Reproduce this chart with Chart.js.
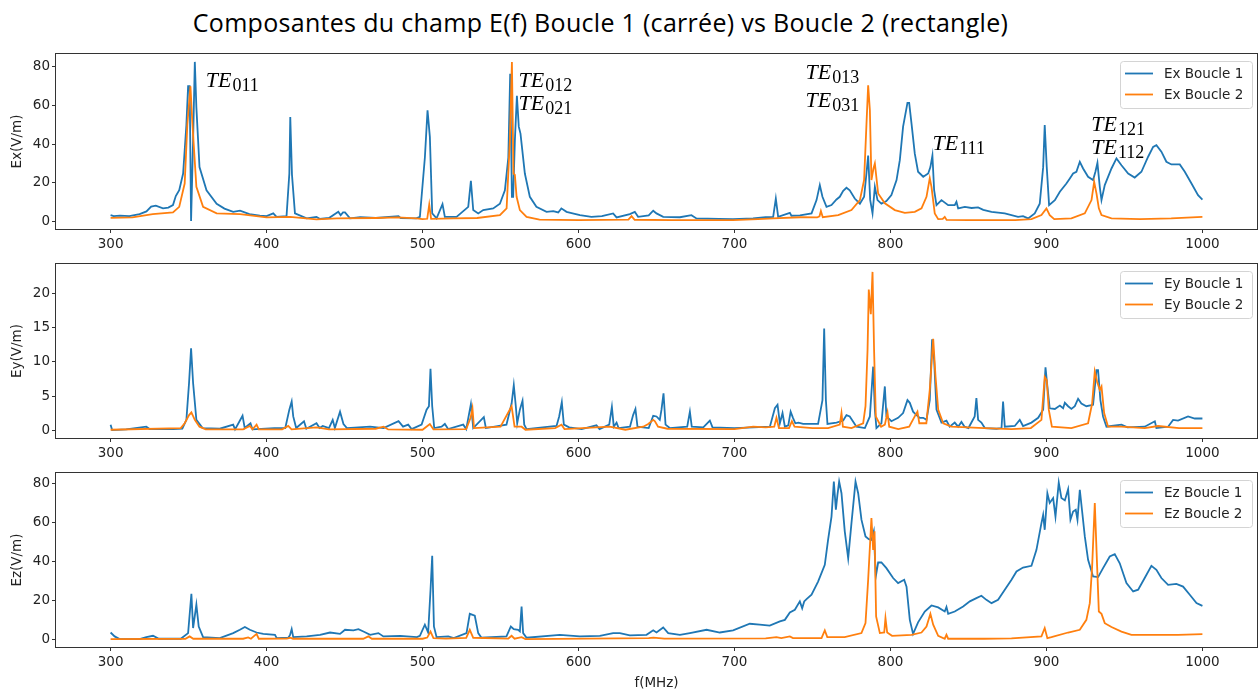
<!DOCTYPE html>
<html>
<head>
<meta charset="utf-8">
<script src="https://cdn.jsdelivr.net/npm/chart.js@4.4.0/dist/chart.umd.min.js"></script>
<style>
  body { margin: 0; background: #fff; width: 1258px; height: 693px; position: relative; overflow: hidden; }
  #title { position: absolute; left: 0; top: 5px; width: 1201px; text-align: center; font-family: "Open Sans"; font-size: 25px; letter-spacing: 0.3px; line-height: 34px; color: #000; }
  canvas { position: absolute; left: 0; }
</style>
</head>
<body>
<div id="title">Composantes du champ E(f) Boucle 1 (carrée) vs Boucle 2 (rectangle)</div>
<canvas id="cx" width="1258" height="219" style="top:40px"></canvas>
<canvas id="cy" width="1258" height="218" style="top:250px"></canvas>
<canvas id="cz" width="1258" height="234" style="top:459px"></canvas>
<script>
// frequency (MHz), field (V/m)
const exB1 = [[300,3.1],[302,2.6],[306,2.8],[312,2.6],[318.6,3.6],[323,5],[326,7.5],[329,8],[333.6,6.6],[337,7],[340,8.3],[341.8,13],[344,16],[346.5,24.7],[348.6,50],[349.7,70],[350.7,70],[351.6,0],[352.9,42],[354,82.6],[355,59],[357,28],[361.5,16],[368,9],[373,6.5],[378.6,4.8],[383,5.4],[389,3.6],[395.7,2.8],[400,2.6],[404.3,4],[406.4,2.2],[412.8,2.6],[414.6,24.7],[415.2,54],[416.3,24],[418.2,4],[425.7,1.4],[432,2.2],[434,1.2],[440,1.6],[446,4.8],[447.5,3],[449,4.5],[450.3,4.5],[453.5,1.4],[460,2],[470,1.6],[484.6,2.6],[486,1.5],[496,1.4],[498.3,2.2],[501.5,33],[503.2,57.5],[504.7,43.7],[506.2,4],[509,1.4],[512.8,8.8],[514.3,2.2],[521.8,2.2],[529.3,7.4],[531,20.9],[532.5,5.7],[535.7,4],[538.9,5.7],[545.3,6.6],[549.6,9],[552.8,16],[555,33],[556.2,76.5],[557.3,12.6],[558.1,12.6],[559.2,42],[560.5,65],[561.7,49],[562.8,45.4],[565.6,24.7],[568.8,12.6],[573,7.4],[579.5,4.8],[583.8,5.2],[587,4.5],[589,6.6],[592.3,4.8],[600.9,3.1],[608.3,2.2],[615,2.6],[622.2,4],[624.4,1.9],[632.9,3.6],[636.1,4.8],[638.2,2.2],[645,3],[647.9,5.4],[650,4],[654.3,2.2],[665,2],[672.4,3.1],[675.6,1.4],[690,1.2],[699,1],[711.9,1.4],[720,2],[724.8,2.2],[726.5,11.7],[728,2.2],[735.5,4.3],[736.5,2.8],[742,3],[749.4,4],[752.6,10.9],[754.7,18.7],[756.4,12.6],[759,7.4],[762.2,8.3],[765.4,11.2],[767.5,12.6],[769.7,15.7],[771.8,17.3],[773.9,16],[777.1,11.7],[780.4,9],[783.1,12.6],[784.6,24.7],[785.7,34],[787,11],[788.5,4],[790,17.8],[791.7,10.9],[794.2,9],[797.4,10.4],[800.6,13.5],[803.9,21.3],[806,31.6],[808.1,49],[810.9,61.3],[812,61.3],[813.5,50.6],[815.6,35],[817.7,25.6],[821,23],[824.2,24.7],[825.6,28],[826.9,34],[828,16],[829.5,8.3],[832.7,10.9],[837,8.3],[841.2,8.3],[842.3,10],[843.4,6.6],[847.7,7.4],[852,6.8],[856.2,7.1],[859.5,5.8],[864.8,4.8],[873.3,4],[881.8,2.2],[885,2.6],[888.3,1.4],[892.5,4],[895.7,9],[897.9,28],[898.9,49.8],[900.2,28],[901.7,8.3],[905.4,10.9],[908.6,15.2],[912.8,19.5],[914.9,22],[917.1,24.7],[919.2,25.6],[921.4,30.8],[923.5,27.3],[926.7,23],[929.9,21.3],[931.4,25.6],[932.7,30.2],[934.2,17.8],[935.3,10.9],[937.4,18.7],[941.7,27.3],[944.9,32.5],[948.1,29],[952.4,24.7],[956.6,22.6],[960.9,25.6],[965.2,33.4],[968.4,38.5],[970.5,39.4],[973.7,36],[976.9,30.8],[980.1,29.4],[985.5,29.4],[988.7,25.6],[993,19.5],[997.2,13.5],[1000,11.2]];
const exB2 = [[300,1.7],[314,1.9],[327,3.6],[340,4.5],[344,7.4],[347.5,19.5],[349.2,50],[351.2,70],[352.5,50],[355,17.8],[359.3,7.4],[368,4],[383,3.6],[400,1.9],[415,2.2],[432,0.9],[445,1.4],[470,1.6],[484,1.9],[496,1.4],[500,1],[503,1.2],[504.3,8.6],[505.5,1.2],[520,1.4],[535,1.6],[549.6,3.1],[553.9,6.6],[556,42],[557.3,82.6],[558.3,24.7],[559.2,24],[560.3,12.6],[562.4,5.7],[566.7,2.2],[575,0.8],[600,0.5],[632,0.8],[634,2.6],[636,0.7],[660,0.5],[699,0.5],[715,1],[724.8,1.4],[742,2],[753,1.9],[754.5,2.5],[755.4,5.2],[756.6,2],[766.5,3.1],[775,5.7],[780.4,10.9],[783.1,21.3],[784.6,50],[785.7,70.5],[786.8,57.5],[787.8,21.3],[789.1,27.3],[790,29.9],[792.1,14.3],[796.4,9.2],[802.8,5.7],[809.2,4.3],[815.6,4.8],[819.9,6.6],[823.1,12.6],[825.2,22.3],[826.3,17.8],[828.4,4],[830.6,1],[833.5,1.2],[834.8,2.2],[836,0.6],[850,0.5],[880,0.5],[890.4,1],[896.8,3.1],[900,6.6],[902.1,3.1],[905,1],[916,1.4],[924.6,4],[928.9,10.9],[930.6,20.4],[932.1,14.3],[933.6,6.6],[935.3,3.1],[941.7,1.4],[960,1],[980,1.4],[1000,2.2]];

const eyB1 = [[300,0.8],[301,0],[310,0.1],[322.9,0.5],[325,0.15],[340,0.15],[346,0.2],[348.6,1.5],[350.3,6.9],[351.6,12],[352.9,6.9],[355,1.5],[359,0.3],[370,0.2],[378.6,0.8],[379.8,0.1],[384.6,2.1],[386,0.3],[389.7,1],[391,0.1],[405,0.3],[412,0.3],[414.6,3],[416.1,4.2],[417.1,2],[419,0.3],[424,1.3],[425.5,0.2],[432,1],[434,0.3],[436,0.6],[440,0.3],[442.4,1.5],[443.8,0.3],[447.1,2.7],[449.3,0.9],[451.5,0.3],[466.4,0.5],[475,0.3],[484.6,1.3],[487.5,0.5],[490.8,0.8],[493,0.15],[499.4,0.8],[502.6,3],[504.1,3.5],[505.1,9],[506.2,3.5],[507.5,0.3],[512.2,0.5],[514.3,0.9],[516.4,0.15],[526.1,0.8],[528,0.15],[531,3.8],[532.5,0.3],[539.3,1.9],[540.6,0.3],[553.8,0.8],[557.1,3.9],[558.5,6.6],[559.8,3.5],[560.7,1],[562.4,3],[564.1,4.3],[565.2,0.8],[566.7,0.15],[585.9,0.6],[587.6,2],[589.3,4.1],[590.6,0.8],[594,0.4],[602,0.15],[611.5,0.7],[613.5,0.15],[619.7,0.8],[621.4,3.4],[622.6,0.5],[624.4,1.1],[625.7,0.3],[633,0.5],[635,2.2],[636.5,3.1],[637.8,0.5],[645,0.3],[647.9,2.1],[650,2],[652.1,1.5],[653.2,3],[654.5,5.4],[655.8,0.8],[658.5,0.3],[669.7,0.5],[671.4,2.7],[672.6,0.5],[680,0.4],[684.2,1.4],[685.9,0.4],[700,0.3],[712,0.4],[722.7,0.5],[725.9,3.2],[727.6,3.7],[729.1,1],[730.8,2.5],[732.3,0.5],[734.5,0.7],[736,2.7],[737.5,1.8],[739,1],[741,1.1],[744,0.9],[748,0.9],[753.6,0.9],[756.4,4.4],[757.5,14.9],[758.6,4.4],[759.6,0.9],[765.4,1.1],[769.7,1.4],[771.8,2.2],[773.9,2],[778.2,0.5],[783.6,0.3],[786.8,2],[788.9,9.3],[790,3],[791,0.3],[794.2,1],[796.4,6.4],[797.4,2],[800.6,1.3],[804.9,1.8],[808.1,2.5],[810.9,4.4],[812.4,4],[814.5,2.7],[816.7,2.2],[818.8,1.8],[821,1.8],[823.1,1.5],[825.2,4.4],[826.7,13.3],[828,10.3],[829.5,3],[832.7,1.1],[835.9,1.4],[838,0.5],[841.2,1.1],[843.4,0.5],[845.5,1.2],[847.5,0.5],[850,0.3],[854,2],[855.1,4.7],[856.2,1.5],[858.3,1.1],[860.5,0.3],[868,0.2],[871.2,0.3],[872.2,4.2],[873.3,0.5],[879.7,0.6],[882.9,1.5],[885,0.6],[890.4,1.1],[894.7,1.8],[897.9,3],[899.4,9.2],[900.6,6.4],[902.1,3.2],[905.4,3.1],[908.6,3.6],[910.7,3.2],[911.8,4],[913.9,3.5],[916,3.1],[918.2,3.5],[920.3,4.6],[922.4,3.9],[925.6,3.5],[929.9,3.7],[932.1,8.8],[933.1,8.8],[934.6,4.4],[936.3,2],[938.5,0.5],[941.7,0.6],[948.1,0.8],[952,0.4],[963,0.5],[969.5,1.3],[970.5,0.3],[978,0.5],[981.2,1.5],[984.4,1.4],[990.8,2],[995.1,1.7],[1000,1.7]];
const eyB2 = [[300,0.05],[345,0.3],[347.5,1],[350.3,2.2],[351.8,2.6],[354,1.5],[357,0.5],[361,0.1],[385,0.1],[389.3,0.6],[391,0.1],[393.6,0.8],[395,0.1],[410,0.1],[413.9,0.6],[416,0.1],[432,0.4],[440,0.1],[470,0.2],[475,0.5],[478,0.1],[500,0.05],[504.7,0.9],[507,0.1],[528,0.15],[530.8,1.8],[532,3.2],[533,0.3],[550,0.5],[557.1,3.5],[559,0.5],[563.5,0.5],[566,0.05],[585,0.3],[589.1,0.8],[591,0.15],[620,0.5],[630,0.05],[641.5,0.5],[644.7,0.9],[647.9,1.5],[649,1.3],[651,0.5],[657,0.2],[700,0.15],[712,0.5],[720,0.4],[725.5,0.5],[726.9,1.8],[728.5,0.3],[735,0.3],[736.8,1.3],[738.5,0.5],[750,0.3],[760,0.3],[767.5,0.8],[768.6,2.5],[769.5,0.5],[775,0.3],[782.5,1],[784,3.5],[785.3,11.7],[786.1,20.6],[787.4,17],[788.5,23.2],[789.5,11.7],[790.6,2],[794,0.5],[796.4,0.8],[798.1,2.6],[799.2,0.5],[805,0.15],[812,0.5],[816,2.2],[817.3,2.7],[818.5,1],[823,1],[825.2,5.9],[827.4,13.4],[828.9,7.8],[830.6,3],[833.8,1],[839.1,0.5],[860,0.3],[877.6,0.15],[890,0.3],[896.8,1.5],[898.9,7.8],[900.2,7.3],[901.5,3],[903.5,0.5],[916,0.3],[926.7,1],[929.3,3.9],[931,8.6],[932.5,7.1],[934.2,5.9],[935.3,6.4],[937,2.5],[939.5,0.5],[948.1,0.5],[963,0.3],[971.6,0.6],[985,0.3],[1000,0.3]];

const ezB1 = [[300,3.4],[302.6,1.4],[305.8,0],[318.6,0],[322.9,1],[327.2,1.7],[331,0.2],[345,0.2],[349.7,3.1],[351.8,23.3],[352.9,5.7],[355,17.7],[356.5,6.5],[359.3,1],[370,0.5],[378.6,3.1],[382.9,4.8],[386.1,6.2],[389.3,4.8],[393.6,3.4],[397.9,2.7],[405.4,2.2],[406.5,0.5],[414,0.8],[415,2],[416.1,5.1],[417.1,1],[425.7,1.4],[434.3,2.2],[440.7,3.4],[447.1,2.7],[450.3,4.8],[455.7,4.5],[458.9,5.1],[462.1,3.9],[466.4,2.2],[471.7,3.1],[474.9,1.4],[485.7,1.7],[496.4,1],[498.3,1.7],[501.5,7.4],[503.6,3.4],[505.1,25],[506.2,42.8],[507.3,6.5],[509,1],[516.5,1.4],[520,0.5],[528.2,3.1],[530.3,13],[533.5,12],[535.7,3.1],[537.8,0.7],[553.8,1.4],[556.6,6.5],[558.5,5.1],[561.3,4.8],[562.4,4],[563.5,16.8],[564.5,3.1],[566.7,0.7],[588,2.2],[600.9,1.4],[613.7,1.7],[622.2,3.1],[626.5,3.1],[632.9,1.9],[643.6,2.2],[647.9,4.5],[650,3.4],[654.3,6],[657.5,3.1],[665,2.2],[671.4,3.1],[682.1,4.8],[690.6,3.4],[699.1,4.5],[709.8,7.9],[716.2,7.4],[722.6,6.9],[729.1,9.1],[732.3,9.9],[735.5,13.7],[738.7,15.1],[741.9,19.4],[743.4,15.9],[744.7,19.4],[746.2,20.6],[749.4,22.8],[753.6,29.6],[757.9,38.2],[760,51],[762.2,63],[763.7,81],[765,66.6],[766,74.2],[767.1,81],[768.6,75],[770.7,55.4],[772.9,41.6],[775,59.6],[777.6,81],[779.3,75],[781.4,61.4],[784,52.8],[786.1,51.4],[787.8,51],[789.3,55.4],[790.6,32.2],[792.1,39.4],[794.2,39.4],[797.4,36.5],[801.7,31.4],[804.9,28.8],[808.8,30.5],[810.3,27],[812.4,9.9],[814.5,2.7],[817.7,8.6],[822,14.2],[826.3,17.3],[830.6,16.3],[834.8,14.2],[835.9,16.5],[837,13],[841.2,14.2],[846.6,16.8],[850.9,19.4],[855.1,21.1],[858.3,22.3],[861.5,20.2],[864.8,18.5],[869,20.2],[873.3,25.4],[877.6,30.5],[880.8,34.8],[885,36.8],[890.4,37.7],[893.6,45.9],[896.8,59.6],[897.9,63.9],[898.9,56.2],[900.6,75],[902.1,70],[904.3,72.5],[905.8,63],[907.9,80.5],[909.6,72.5],[911.8,71.3],[913.9,77.1],[915.4,61.4],[917.1,65.6],[918.8,66.5],[919.9,61.4],[921.4,76.8],[922.9,65.6],[924.6,52.8],[926.7,40.8],[929.9,32.2],[933.1,31.9],[936.3,36.5],[940.6,42.5],[943.8,43.7],[947,39],[951.3,28.8],[955.6,24.5],[958.8,25.4],[963,31.4],[967.3,37.7],[970.5,35.6],[973.7,31.4],[978,27.9],[983.3,28.4],[987.6,27],[991.9,22.8],[996.2,18.5],[1000,17.1]];
const ezB2 = [[300,0],[348,0.2],[350.7,1.4],[353,0.2],[385,0.2],[388.2,0.9],[390,0.2],[393.6,2.7],[395,0.2],[413,0.3],[415,0.7],[417,0.2],[462,0.2],[465.3,1.4],[467.5,0.2],[500,0.2],[503,0.8],[505.1,3.9],[507,0.5],[515,0.3],[528,0.6],[530.3,4.8],[532.5,0.7],[555,0.3],[557.1,1.7],[559,0.2],[563.5,1],[566,0],[645,0.5],[648,0.8],[655,0.3],[720,0.4],[726.9,1],[730,0.5],[735.5,1.4],[737.5,0.5],[755.8,0.5],[757.9,4.5],[759.5,1],[770.7,1],[781.4,3.1],[784,8.2],[785.7,30.5],[787.8,62.2],[788.9,45.9],[789.8,55.4],[790.8,11.7],[793.2,3.1],[796,3.4],[796.8,10.8],[797.9,3.4],[801,1.7],[813.5,2.2],[819.9,3.4],[823.1,6.5],[825.6,13],[827.4,7.4],[830.6,1.7],[834.8,0.2],[835.9,2.2],[837,0.2],[860,0.2],[877.6,0.4],[896.8,1.4],[898.9,5.7],[900.6,0.5],[903.2,1],[913.9,3.4],[921.4,4.8],[925.6,9.9],[927.8,18.5],[929.3,37.4],[931,70],[932.5,37.4],[933.6,14.2],[935.3,13],[937.4,8.2],[941.7,6.2],[948.1,3.9],[954.5,2.2],[963,2.2],[984.4,2.2],[1000,2.6]];

const xTicks = [300, 400, 500, 600, 700, 800, 900, 1000];
const exTicks = [0, 20, 40, 60, 80];
const eyTicks = [0, 5, 10, 15, 20];
const ezTicks = [0, 20, 40, 60, 80];

// mode labels: subscript, anchor frequency, anchor field value (panel Ex)
const modeSubs = ['011', '012', '021', '013', '031', '111', '121', '112'];
const modeFreqs = [361, 561.5, 561.5, 745.5, 745.5, 827, 928.8, 928.8];
const modeVals = [69.5, 69.5, 57.5, 73.6, 59.1, 36.8, 46.7, 34.7];

Chart.defaults.font.family = '"DejaVu Sans"';
Chart.defaults.font.size = 13.5;
Chart.defaults.color = '#222';

const BLUE = '#1f77b4';
const ORANGE = '#ff7f0e';

const framePlugin = {
  id: 'frame',
  afterDraw(chart) {
    const a = chart.chartArea, ctx = chart.ctx;
    ctx.save();
    ctx.strokeStyle = '#333';
    ctx.lineWidth = 1;
    ctx.strokeRect(Math.round(a.left) - 0.5, Math.round(a.top) - 0.5,
                   Math.round(a.right - a.left) + 1, Math.round(a.bottom - a.top) + 1);
    ctx.restore();
  }
};

const legendPlugin = {
  id: 'boxLegend',
  afterDraw(chart) {
    const a = chart.chartArea, ctx = chart.ctx;
    const w = 132, h = 47;
    const x = a.right - 5 - w, y = a.top + 7;
    ctx.save();
    ctx.beginPath();
    ctx.roundRect(x + 0.5, y + 0.5, w, h, 3);
    ctx.fillStyle = 'rgba(255,255,255,0.8)';
    ctx.fill();
    ctx.strokeStyle = '#d4d4d4';
    ctx.lineWidth = 1;
    ctx.stroke();
    chart.data.datasets.forEach((ds, i) => {
      const ly = y + 12.5 + i * 21;
      ctx.strokeStyle = ds.borderColor;
      ctx.lineWidth = 1.8;
      ctx.beginPath();
      ctx.moveTo(x + 5, ly);
      ctx.lineTo(x + 33, ly);
      ctx.stroke();
      ctx.fillStyle = '#222';
      ctx.font = '13.5px "DejaVu Sans"';
      ctx.textBaseline = 'middle';
      ctx.fillText(ds.label, x + 44, ly + 0.5);
    });
    ctx.restore();
  }
};

const modePlugin = {
  id: 'modes',
  afterDraw(chart) {
    const ctx = chart.ctx, xs = chart.scales.x, ys = chart.scales.y;
    ctx.save();
    ctx.fillStyle = '#000';
    ctx.textBaseline = 'alphabetic';
    modeSubs.forEach((sub, i) => {
      const px = xs.getPixelForValue(modeFreqs[i]);
      const py = ys.getPixelForValue(modeVals[i]);
      ctx.font = 'italic 22px "Liberation Serif"';
      ctx.fillText('TE', px, py);
      const w = ctx.measureText('TE').width;
      ctx.font = '18px "Liberation Serif"';
      ctx.fillText(sub, px + w + 1, py + 4);
    });
    ctx.restore();
  }
};

function pts(arr) {
  return arr.map(p => ({ x: p[0], y: p[1] }));
}

function makePanel(id, comp, b1, b2, yMin, yMax, yTicks, opt) {
  const ctx = document.getElementById(id).getContext('2d');
  return new Chart(ctx, {
    type: 'line',
    data: {
      datasets: [
        { label: comp + ' Boucle 1', data: pts(b1), borderColor: BLUE, borderWidth: 1.8, pointRadius: 0, tension: 0, order: 1 },
        { label: comp + ' Boucle 2', data: pts(b2), borderColor: ORANGE, borderWidth: 1.8, pointRadius: 0, tension: 0, order: 0 }
      ]
    },
    options: {
      responsive: false,
      devicePixelRatio: 1,
      animation: false,
      layout: { padding: { left: 0, right: 1, top: opt.padTop, bottom: 0 } },
      plugins: { legend: { display: false }, tooltip: { enabled: false } },
      scales: {
        x: {
          type: 'linear', min: 265, max: 1035,
          border: { display: false },
          grid: { display: true, drawOnChartArea: false, drawTicks: true, tickLength: 4, color: '#333' },
          ticks: { padding: 3, maxRotation: 0, autoSkip: false, callback: v => String(v) },
          afterBuildTicks: s => { s.ticks = xTicks.map(v => ({ value: v })); },
          afterFit: s => { s.height = opt.xHeight; },
          title: { display: !!opt.xTitle, text: opt.xTitle || '', padding: { top: 0, bottom: 1 }, color: '#222' }
        },
        y: {
          min: yMin, max: yMax,
          border: { display: false },
          grid: { display: true, drawOnChartArea: false, drawTicks: true, tickLength: 4, color: '#333' },
          ticks: { padding: 2, callback: v => String(v) },
          afterBuildTicks: s => { s.ticks = yTicks.map(v => ({ value: v })); },
          afterFit: s => { s.width = 56; },
          title: { display: true, text: comp + '(V/m)', padding: { top: 9, bottom: 0 }, color: '#222' }
        }
      }
    },
    plugins: [framePlugin, legendPlugin].concat(opt.extra || [])
  });
}

makePanel('cx', 'Ex', exB1, exB2, -4.1, 86.7, exTicks, { padTop: 14, xHeight: 30, extra: [modePlugin] });
makePanel('cy', 'Ey', eyB1, eyB2, -1.16, 24.36, eyTicks, { padTop: 14, xHeight: 30 });
makePanel('cz', 'Ez', ezB1, ezB2, -4.05, 85.4, ezTicks, { padTop: 14, xHeight: 46, xTitle: 'f(MHz)' });
</script>
</body>
</html>
